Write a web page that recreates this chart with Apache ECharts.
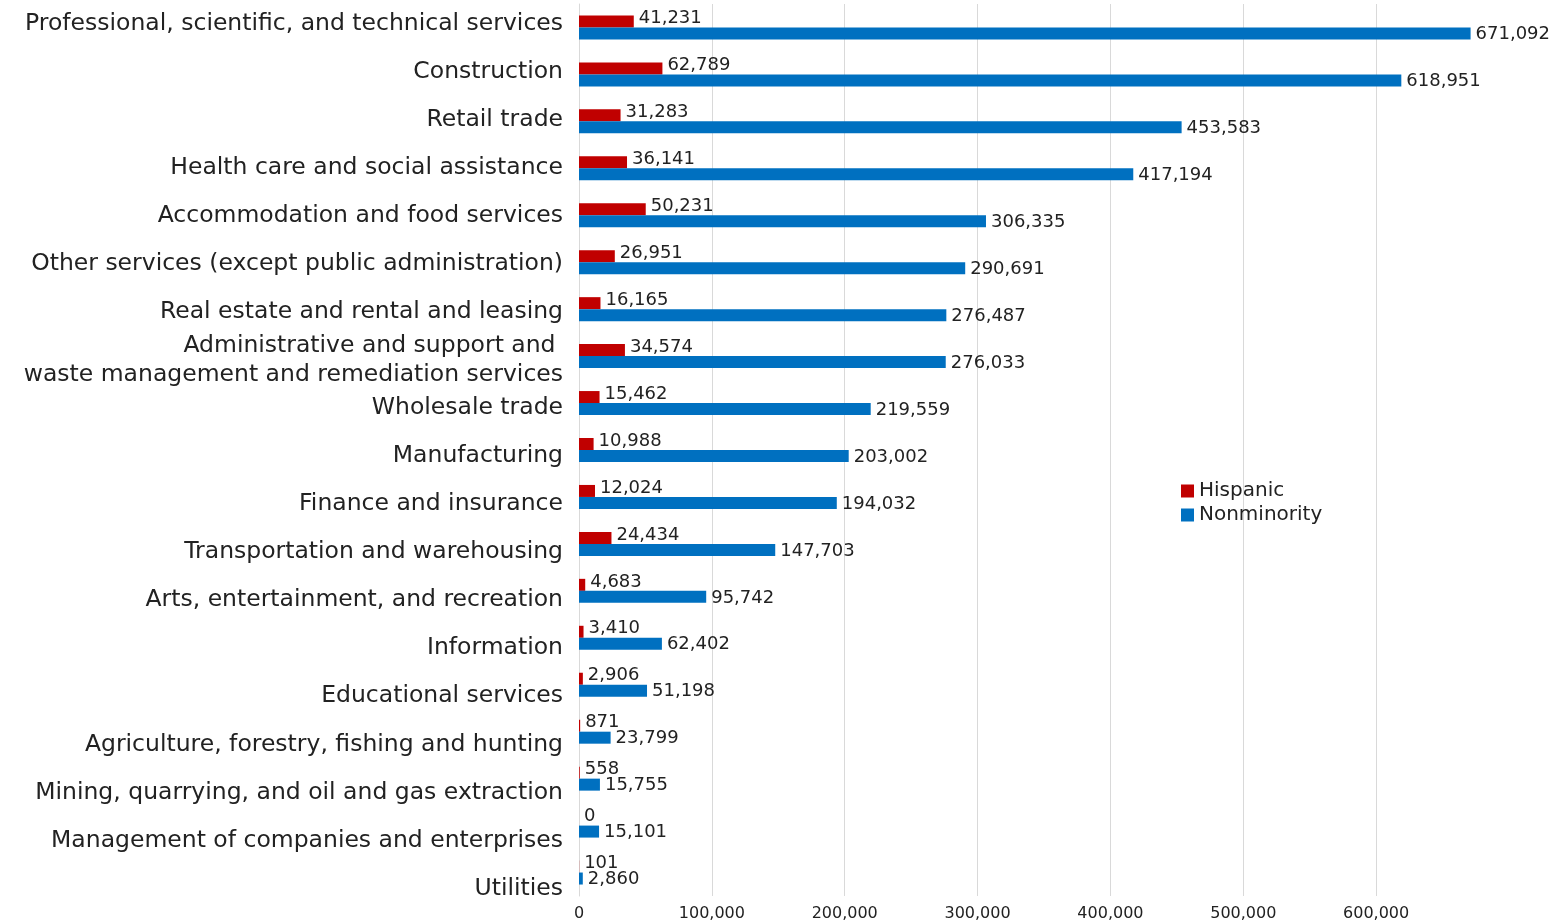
<!DOCTYPE html>
<html>
<head>
<meta charset="utf-8">
<script src="https://cdn.jsdelivr.net/npm/echarts@6/dist/echarts.min.js"></script>
<style>
  html, body { margin: 0; padding: 0; background: #fff; }
  #chart { width: 1563px; height: 922px; }
</style>
</head>
<body>
<div id="chart"></div>
<script>
  // industries, top to bottom
  var categories = [
    'Professional, scientific, and technical services',
    'Construction',
    'Retail trade',
    'Health care and social assistance',
    'Accommodation and food services',
    'Other services (except public administration)',
    'Real estate and rental and leasing',
    'Administrative and support and \nwaste management and remediation services',
    'Wholesale trade',
    'Manufacturing',
    'Finance and insurance',
    'Transportation and warehousing',
    'Arts, entertainment, and recreation',
    'Information',
    'Educational services',
    'Agriculture, forestry, fishing and hunting',
    'Mining, quarrying, and oil and gas extraction',
    'Management of companies and enterprises',
    'Utilities'
  ];
  var hispanic = [41231, 62789, 31283, 36141, 50231, 26951, 16165, 34574, 15462, 10988,
    12024, 24434, 4683, 3410, 2906, 871, 558, 0, 101];
  var nonminority = [671092, 618951, 453583, 417194, 306335, 290691, 276487, 276033, 219559, 203002,
    194032, 147703, 95742, 62402, 51198, 23799, 15755, 15101, 2860];

  var font = 'DejaVu Sans';
  var fmt = function (v) { return Number(v).toLocaleString('en-US'); };

  var chart = echarts.init(document.getElementById('chart'));
  chart.setOption({
    animation: false,
    textStyle: { fontFamily: font },
    // grid 0 holds the bars, grid 1 only carries the category labels
    // (the original spaces its labels a bit wider than its bars)
    grid: [
      { left: 579, right: 54, top: 4, bottom: 21 },
      { left: 579, right: 54, top: -1.5, bottom: 9.5 }
    ],
    legend: {
      orient: 'vertical',
      left: 1176,
      top: 476,
      itemWidth: 13,
      itemHeight: 13,
      itemGap: 4,
      icon: 'rect',
      textStyle: { fontFamily: font, fontSize: 20, color: '#222' },
      data: ['Hispanic', 'Nonminority']
    },
    xAxis: [
      {
        type: 'value',
        gridIndex: 0,
        min: 0,
        max: 700000,
        interval: 100000,
        axisLine: { show: false },
        axisTick: { show: false },
        splitLine: { show: true, showMaxLine: false, lineStyle: { color: '#d9d9d9' } },
        axisLabel: {
          showMaxLabel: false,
          fontFamily: font,
          fontSize: 16,
          color: '#222',
          margin: 10,
          formatter: fmt
        }
      },
      { type: 'value', gridIndex: 1, show: false }
    ],
    yAxis: [
      {
        type: 'category',
        gridIndex: 0,
        inverse: true,
        data: categories,
        axisLine: { show: true, lineStyle: { color: '#d9d9d9' } },
        axisTick: { show: false },
        axisLabel: { show: false }
      },
      {
        type: 'category',
        gridIndex: 1,
        inverse: true,
        data: categories,
        axisLine: { show: false },
        axisTick: { show: false },
        axisLabel: {
          fontFamily: font,
          fontSize: 23.5,
          color: '#222',
          margin: 16,
          lineHeight: 29
        }
      }
    ],
    series: [
      {
        name: 'Hispanic',
        type: 'bar',
        data: hispanic,
        barWidth: 12,
        barGap: '0%',
        itemStyle: { color: '#C00000' },
        label: {
          show: true,
          position: 'right',
          offset: [0, -3],
          fontFamily: font,
          fontSize: 18,
          color: '#222',
          formatter: function (p) { return fmt(p.value); }
        }
      },
      {
        name: 'Nonminority',
        type: 'bar',
        data: nonminority,
        barWidth: 12,
        itemStyle: { color: '#0070C0' },
        label: {
          show: true,
          position: 'right',
          offset: [0, 1],
          fontFamily: font,
          fontSize: 18,
          color: '#222',
          formatter: function (p) { return fmt(p.value); }
        }
      }
    ]
  });
</script>
</body>
</html>
